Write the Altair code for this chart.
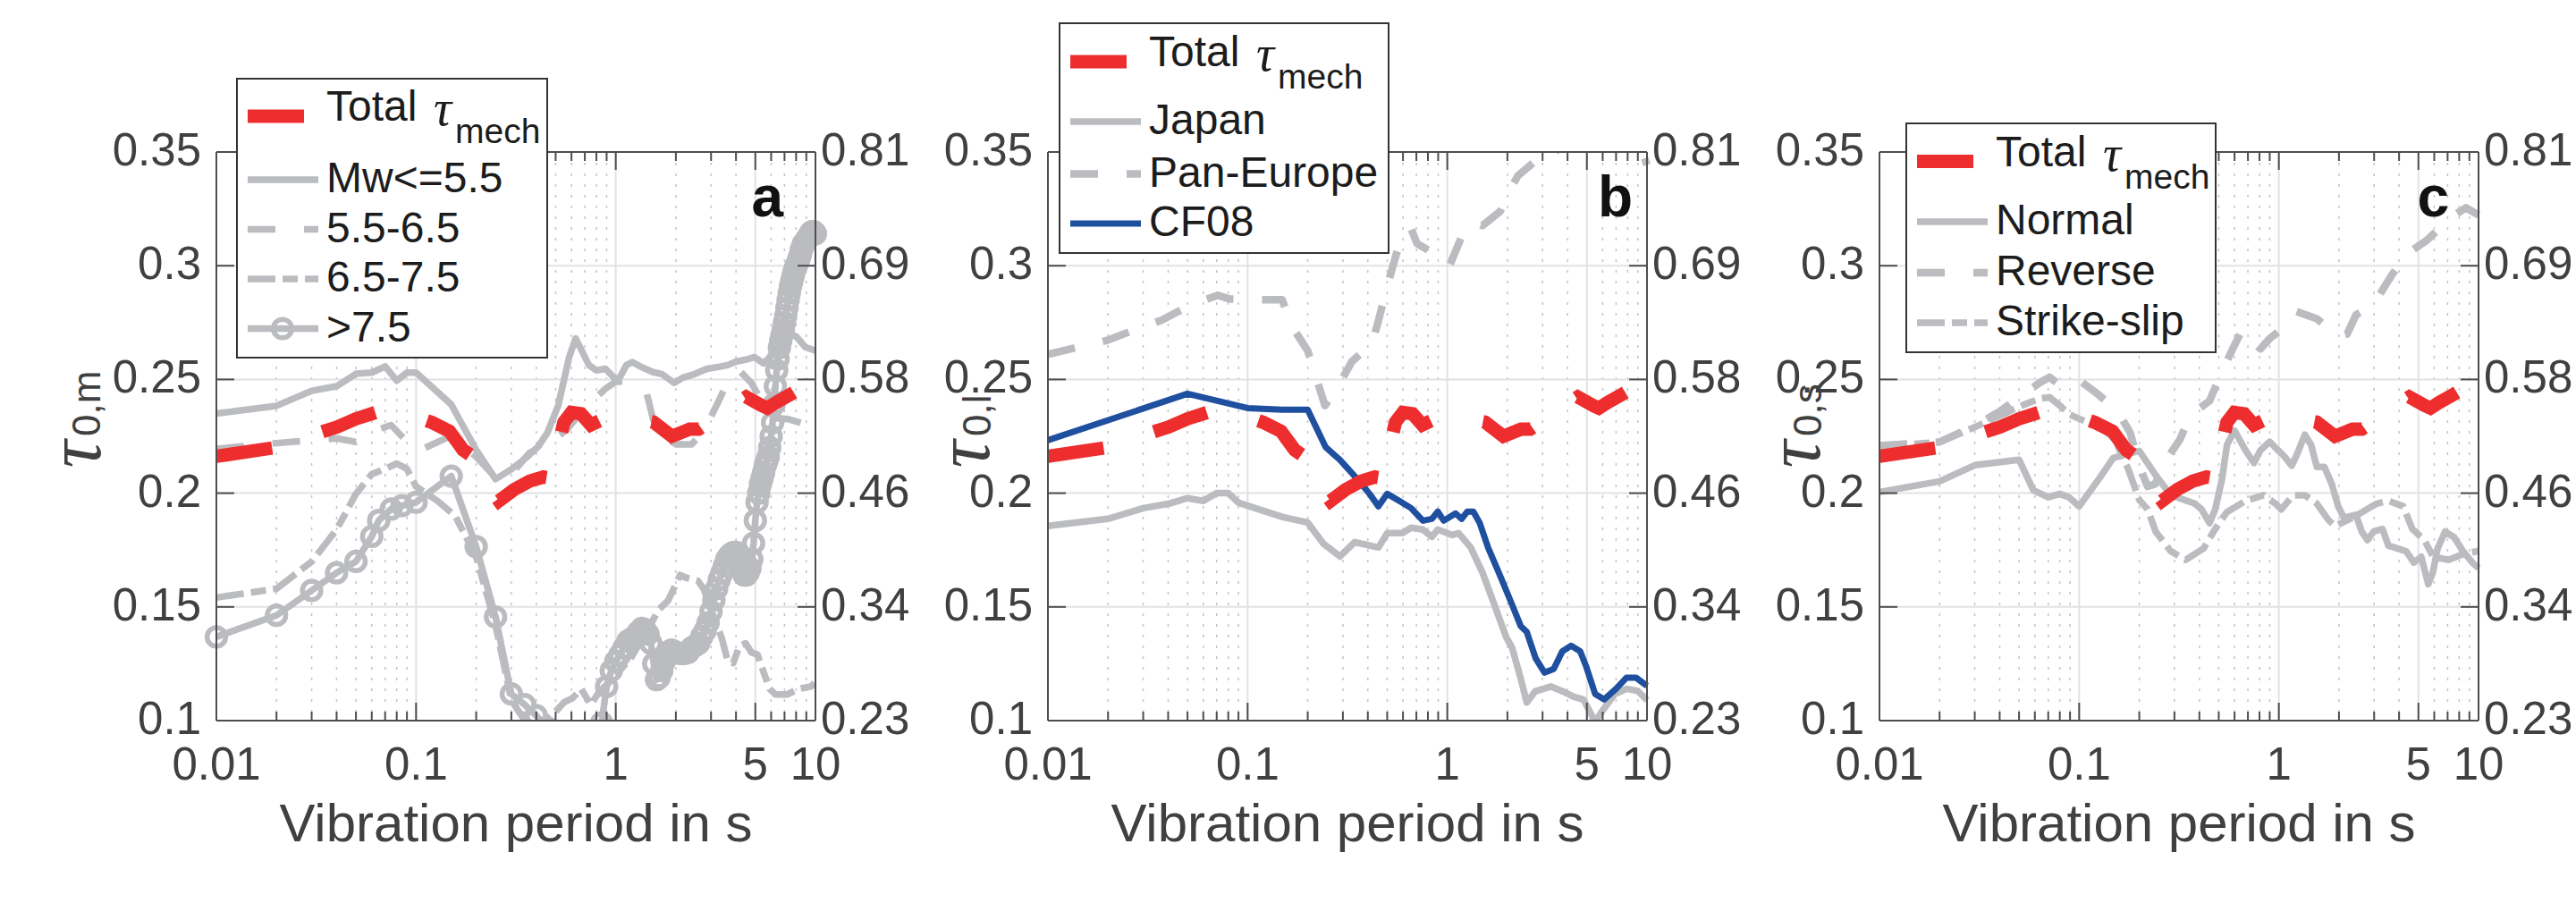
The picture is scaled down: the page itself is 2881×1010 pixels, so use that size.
import altair as alt
import pandas as pd

# ---------------- data: vibration period (s) and sigma values ----------------
# Total tau_mech (right-hand axis, drawn in left-axis units)
T_RED = [0.01, 0.02, 0.03, 0.04, 0.05, 0.065, 0.08, 0.1, 0.12, 0.147, 0.172, 0.19, 0.22, 0.26,
         0.31, 0.37, 0.435, 0.48, 0.52, 0.55, 0.6, 0.67, 0.75, 0.86, 0.96, 1.2, 1.55, 1.91, 2.34,
         2.6, 3.5, 4.5, 5.35, 5.74, 6.35, 7.55, 10]
V_RED = [0.2162, 0.2201, 0.2255, 0.229, 0.2327, 0.2359, 0.2355, 0.2335, 0.2311, 0.2272, 0.219,
         0.2164, 0.205, 0.1966, 0.2016, 0.2053, 0.2071, 0.2065, 0.222, 0.2312, 0.2355, 0.2349, 0.23,
         0.2325, 0.2331, 0.233, 0.2312, 0.225, 0.2281, 0.2281, 0.236, 0.2423, 0.2386, 0.2374,
         0.2399, 0.2436, 0.25]

# panel a: magnitude bins
T_MW55 = [0.01, 0.02, 0.03, 0.04, 0.05, 0.06, 0.07, 0.08, 0.09, 0.1, 0.15, 0.2, 0.25, 0.3, 0.356,
          0.41, 0.455, 0.515, 0.585, 0.63, 0.734, 0.8, 0.887, 0.98, 1.035, 1.13, 1.21, 1.34, 1.54,
          1.7, 1.96, 2.17, 2.49, 2.86, 3.28, 3.63, 4.03, 4.47, 4.96, 5.49, 6.1, 6.75, 7.5, 8.0,
          8.9, 10]
V_MW55 = [0.235, 0.2384, 0.245, 0.247, 0.2525, 0.253, 0.2557, 0.2495, 0.253, 0.253, 0.239, 0.219,
          0.2062, 0.2105, 0.2156, 0.2206, 0.2266, 0.2385, 0.26, 0.268, 0.2563, 0.254, 0.2547,
          0.2508, 0.25, 0.2563, 0.2576, 0.2555, 0.2532, 0.2524, 0.2485, 0.2508, 0.2524, 0.2547,
          0.2555, 0.2563, 0.2579, 0.2587, 0.2598, 0.2571, 0.261, 0.2657, 0.27, 0.2689, 0.2642,
          0.2626]

T_MW65 = [0.01, 0.02, 0.03, 0.04, 0.05, 0.066, 0.075, 0.085, 0.1, 0.11, 0.15, 0.2, 0.25, 0.3,
          0.37, 0.46, 0.57, 0.7, 0.89, 1.0, 1.13, 1.43, 1.6, 2.0, 2.4, 2.76, 3.28, 3.76, 4.2,
          4.78, 5.49, 6.2, 7.2, 9.5, 10]
V_MW65 = [0.2195, 0.222, 0.2233, 0.2241, 0.2225, 0.2283, 0.2299, 0.2249, 0.2185, 0.2198, 0.2252,
          0.216, 0.207, 0.2083, 0.2178, 0.2217, 0.228, 0.2374, 0.246, 0.249, 0.2492, 0.2437,
          0.2266, 0.2215, 0.2215, 0.2272, 0.2406, 0.2516, 0.2535, 0.2484, 0.239, 0.233, 0.2327,
          0.2296, 0.229]

T_MW75 = [0.01, 0.02, 0.03, 0.04, 0.05, 0.06, 0.07, 0.08, 0.09, 0.1, 0.128, 0.157, 0.2, 0.25,
          0.3, 0.35, 0.4, 0.45, 0.5, 0.55, 0.61, 0.67, 0.75, 0.83, 0.92, 1.0, 1.2, 1.4, 1.65,
          1.83, 2.1, 2.25, 2.58, 2.76, 3.17, 3.39, 3.63, 3.87, 4.17, 4.47, 4.78, 5.13, 5.49,
          5.89, 6.3, 7.2, 8.3, 9.5, 10]
V_MW75 = [0.1541, 0.158, 0.1699, 0.184, 0.1997, 0.2084, 0.2107, 0.213, 0.2107, 0.2029, 0.1966,
          0.19, 0.172, 0.142, 0.109, 0.1, 0.099, 0.1005, 0.104, 0.108, 0.11, 0.114, 0.107, 0.113,
          0.1165, 0.12, 0.128, 0.138, 0.149, 0.1528, 0.164, 0.1628, 0.1615, 0.1578, 0.1428,
          0.1365, 0.1265, 0.1253, 0.1328, 0.134, 0.13, 0.129, 0.1215, 0.114, 0.1115, 0.1115,
          0.114, 0.115, 0.117]

# Mw > 7.5: every period carries a marker, so the long-period end is densely sampled
T_MW8 = [0.01, 0.02, 0.03, 0.04, 0.05, 0.06, 0.065, 0.075, 0.085, 0.1, 0.15, 0.2, 0.25, 0.3,
         0.35, 0.4, 0.45, 0.5, 0.6, 0.7, 0.8, 0.85,
         0.9, 0.95, 1.0, 1.05, 1.1, 1.15, 1.2, 1.25, 1.3, 1.35, 1.4, 1.45, 1.5, 1.55, 1.6, 1.65,
         1.7, 1.75, 1.8, 1.85, 1.9, 1.95, 2.0,
         2.1, 2.2, 2.3, 2.4, 2.5, 2.6, 2.7, 2.8, 2.9, 3.0,
         3.1, 3.2, 3.3, 3.4, 3.5, 3.6, 3.7, 3.8, 3.9, 4.0,
         4.1, 4.2, 4.3, 4.4, 4.5, 4.6, 4.7, 4.8, 4.9, 5.0,
         5.1, 5.2, 5.3, 5.4, 5.5, 5.6, 5.7, 5.8, 5.9, 6.0,
         6.1, 6.2, 6.3, 6.4, 6.5, 6.6, 6.7, 6.8, 6.9, 7.0,
         7.1, 7.2, 7.3, 7.4, 7.5, 7.6, 7.7, 7.8, 7.9, 8.0,
         8.1, 8.2, 8.3, 8.4, 8.5, 8.6, 8.7, 8.8, 8.9, 9.0,
         9.1, 9.2, 9.3, 9.4, 9.5, 9.6, 9.7, 9.8, 9.9, 10.0]
V_MW8 = [0.1368, 0.1463, 0.1572, 0.165, 0.17, 0.181, 0.188, 0.193, 0.1945, 0.196, 0.2075,
         0.1765, 0.1456, 0.1117, 0.107, 0.1022, 0.097, 0.092, 0.084, 0.082, 0.088, 0.099,
         0.115, 0.122, 0.126, 0.129, 0.132, 0.135, 0.136, 0.137, 0.139, 0.1405, 0.14, 0.138,
         0.134, 0.125, 0.118, 0.119, 0.122, 0.126, 0.128, 0.13, 0.131, 0.1305, 0.13,
         0.1295, 0.1295, 0.13, 0.132, 0.133, 0.134, 0.137, 0.1395, 0.143, 0.148,
         0.153, 0.158, 0.162, 0.165, 0.168, 0.171, 0.1725, 0.1735, 0.174, 0.174,
         0.172, 0.169, 0.166, 0.164, 0.164, 0.165, 0.167, 0.171, 0.178, 0.188,
         0.196, 0.2, 0.204, 0.2065, 0.209, 0.212, 0.214, 0.216, 0.22, 0.225,
         0.231, 0.239, 0.247, 0.254, 0.259, 0.264, 0.267, 0.2695, 0.272, 0.275,
         0.278, 0.2815, 0.285, 0.288, 0.291, 0.293, 0.295, 0.297, 0.2985, 0.3,
         0.301, 0.302, 0.3035, 0.305, 0.307, 0.308, 0.3095, 0.31, 0.3105, 0.311,
         0.312, 0.3125, 0.313, 0.314, 0.3145, 0.315, 0.315, 0.315, 0.3145, 0.314]

# panel b: regional models
T_JP = [0.01, 0.02, 0.03, 0.04, 0.05, 0.06, 0.07, 0.08, 0.09, 0.1, 0.15, 0.2, 0.24, 0.29, 0.344,
        0.452, 0.5, 0.595, 0.659, 0.755, 0.837, 0.896, 1.06, 1.14, 1.31, 1.5, 1.72, 1.97, 2.11,
        2.34, 2.5, 2.75, 3.3, 3.8, 4.3, 4.8, 5.5, 6.0, 6.9, 7.9, 9.0, 10]
V_JP = [0.1856, 0.1887, 0.1934, 0.1953, 0.1978, 0.1966, 0.2, 0.2, 0.1958, 0.1945, 0.1895, 0.1871,
        0.1777, 0.1722, 0.1785, 0.1761, 0.1824, 0.1824, 0.1848, 0.184, 0.1808, 0.184, 0.1816,
        0.1824, 0.1761, 0.1651, 0.151, 0.1368, 0.1321, 0.118, 0.108, 0.1128, 0.115, 0.1128,
        0.1105, 0.1093, 0.0995, 0.1045, 0.1117, 0.114, 0.113, 0.109]

T_PE = [0.01, 0.02, 0.026, 0.037, 0.045, 0.059, 0.071, 0.081, 0.11, 0.149, 0.166, 0.2, 0.244,
        0.29, 0.333, 0.42, 0.45, 0.5, 0.555, 0.605, 0.66, 0.705, 0.81, 0.93, 1.03, 1.18, 1.35,
        1.5, 1.84, 2.11, 2.26, 2.68, 3.07, 3.29, 4.0, 5.0, 6.5, 8.3, 9.6, 10]
V_PE = [0.261, 0.2673, 0.2712, 0.276, 0.2799, 0.2846, 0.287, 0.2854, 0.285, 0.285, 0.2736,
        0.2626, 0.2385, 0.2485, 0.2579, 0.2657, 0.2752, 0.2909, 0.305, 0.3145, 0.3161, 0.3098,
        0.3066, 0.305, 0.3003, 0.3129, 0.3192, 0.3176, 0.3239, 0.3349, 0.3396, 0.3451, 0.3443,
        0.3475, 0.357, 0.362, 0.36, 0.3506, 0.3486, 0.3443]

T_CF = [0.01, 0.05, 0.1, 0.149, 0.2, 0.246, 0.29, 0.356, 0.408, 0.452, 0.5, 0.575, 0.659, 0.755,
        0.837, 0.896, 0.96, 1.1, 1.18, 1.26, 1.35, 1.45, 1.6, 1.84, 2.11, 2.33, 2.5, 2.77, 3.07,
        3.41, 3.77, 4.17, 4.63, 4.95, 5.5, 6.1, 7.0, 7.9, 8.8, 10]
V_CF = [0.2233, 0.2437, 0.2374, 0.2367, 0.2367, 0.2202, 0.2146, 0.206, 0.1997, 0.1942, 0.1997,
        0.1966, 0.1934, 0.1879, 0.1887, 0.1919, 0.1879, 0.1911, 0.1887, 0.1919, 0.1919, 0.1871,
        0.1761, 0.1636, 0.151, 0.1416, 0.139, 0.1274, 0.1211, 0.1227, 0.1305, 0.1329, 0.1305,
        0.124, 0.1117, 0.1093, 0.114, 0.1189, 0.1189, 0.1153]

# panel c: fault mechanisms
T_NO = [0.01, 0.02, 0.03, 0.05, 0.059, 0.07, 0.08, 0.089, 0.1, 0.125, 0.148, 0.17, 0.2, 0.242,
        0.288, 0.38, 0.41, 0.45, 0.48, 0.52, 0.55, 0.6, 0.68, 0.75, 0.81, 0.9, 0.99, 1.06, 1.16,
        1.24, 1.35, 1.45, 1.55, 1.69, 1.84, 1.98, 2.12, 2.43, 2.6, 2.78, 2.98, 3.3, 3.54, 3.93,
        4.35, 4.74, 5.17, 5.6, 5.9, 6.24, 6.8, 7.55, 8.37, 9.3, 10]
V_NO = [0.2005, 0.2052, 0.2123, 0.2147, 0.2013, 0.1982, 0.1997, 0.1982, 0.1942, 0.206, 0.2154,
        0.217, 0.2186, 0.2078, 0.1991, 0.1954, 0.1929, 0.1868, 0.1929, 0.2065, 0.2213, 0.2275,
        0.2189, 0.2133, 0.2189, 0.2226, 0.2189, 0.2164, 0.2121, 0.2176, 0.2257, 0.2213, 0.2115,
        0.2115, 0.2041, 0.1942, 0.1892, 0.1905, 0.1831, 0.1794, 0.1831, 0.1843, 0.1769, 0.1757,
        0.1744, 0.1695, 0.172, 0.16, 0.165, 0.1757, 0.1831, 0.1806, 0.1744, 0.1695, 0.167]

T_RV = [0.01, 0.02, 0.03, 0.04, 0.05, 0.063, 0.071, 0.08, 0.09, 0.1, 0.125, 0.156, 0.18, 0.2,
        0.22, 0.24, 0.27, 0.32, 0.36, 0.45, 0.517, 0.593, 0.657, 0.72, 0.808, 0.9, 1.03, 1.22,
        1.55, 1.97, 2.2, 2.43, 2.98, 3.66, 4.35, 5.53, 6.58, 7.5, 8.66, 10]
V_RV = [0.2209, 0.2225, 0.2296, 0.2359, 0.2422, 0.2484, 0.251, 0.2475, 0.249, 0.2497, 0.2433,
        0.236, 0.2266, 0.212, 0.203, 0.204, 0.214, 0.2237, 0.2343, 0.2406, 0.2532, 0.2642, 0.272,
        0.268, 0.2634, 0.268, 0.272, 0.2799, 0.2767, 0.2689, 0.27, 0.2783, 0.283, 0.2956, 0.305,
        0.3113, 0.3176, 0.322, 0.3255, 0.3223]

T_SS = [0.01, 0.02, 0.03, 0.04, 0.05, 0.063, 0.071, 0.08, 0.09, 0.1, 0.125, 0.15, 0.176, 0.2,
        0.22, 0.242, 0.288, 0.342, 0.42, 0.48, 0.55, 0.68, 0.84, 0.96, 1.03, 1.18, 1.35, 1.55,
        1.78, 1.91, 2.34, 3.09, 3.54, 4.2, 4.66, 5.35, 5.93, 7.05, 8.37, 9.75, 10]
V_SS = [0.2205, 0.2225, 0.229, 0.234, 0.238, 0.2415, 0.2422, 0.2385, 0.2345, 0.2327, 0.2296,
        0.224, 0.2107, 0.197, 0.193, 0.183, 0.1744, 0.1707, 0.1757, 0.1843, 0.1917, 0.1966,
        0.1991, 0.1954, 0.1929, 0.1991, 0.1991, 0.1954, 0.188, 0.1855, 0.1892, 0.1954, 0.1966,
        0.1942, 0.1843, 0.1794, 0.172, 0.1707, 0.1732, 0.1744, 0.1746]

# axis ticks and labels
X_LABELS = [0.01, 0.1, 1, 5, 10]
X_LABEL_TEXT = ["0.01", "0.1", "1", "5", "10"]
X_MINOR = [0.02, 0.03, 0.04, 0.05, 0.06, 0.07, 0.08, 0.09, 0.2, 0.3, 0.4, 0.5, 0.6, 0.7, 0.8,
           0.9, 2, 3, 4, 6, 7, 8, 9]
X_GRID_MAJOR = [0.1, 1, 5]
Y_TICKS = [0.1, 0.15, 0.2, 0.25, 0.3, 0.35]
Y_LABEL_TEXT = ["0.1", "0.15", "0.2", "0.25", "0.3", "0.35"]
Y_GRID = [0.15, 0.2, 0.25, 0.3]
RIGHT_LABEL_TEXT = ["0.23", "0.34", "0.46", "0.58", "0.69", "0.81"]
X_TITLE = "Vibration period in s"

# ---------------- layout & styling ----------------
FIG_W, FIG_H = 2881, 1010
PANEL_LEFT = [242, 1172, 2102]
TOP = 170
W, H = 670, 636
FONT = "Liberation Sans"
INK = "#404040"
LEG_INK = "#1c1c1c"
GRAY = "#bbbcc0"
RED = "#ee2e2e"
BLUE = "#1f4f9f"
FRAME = "#4d4d4d"
DASH = [31, 32]
DASHDOT = [31, 8, 17, 8]
RED_DASH = [63, 59.2]
TICK_FS = 51
LEG_FS = 48
LINE_W = 7.5
MARK_SIZE = 430
MARK_STROKE = 5.5

one = pd.DataFrame({"k": [0]})


def text(s, x, y, size, **kw):
    opts = dict(text=s, fontSize=size, font=FONT, color=INK, align="left", baseline="middle")
    opts.update(kw)
    return alt.Chart(one).mark_text(**opts).encode(x=alt.value(x), y=alt.value(y))


def hrule(x0, x1, y, **kw):
    return alt.Chart(one).mark_rule(**kw).encode(x=alt.value(x0), x2=alt.value(x1), y=alt.value(y))


def vrule(x, y0, y1, **kw):
    return alt.Chart(one).mark_rule(**kw).encode(x=alt.value(x), y=alt.value(y0), y2=alt.value(y1))


def build_panel(ox, lines, legend, letter, letter_dx, sub, tau_dx, sub_dx):
    xs = alt.Scale(type="log", domain=[0.01, 10], range=[ox, ox + W], nice=False)
    ys = alt.Scale(domain=[0.1, 0.35], range=[TOP + H, TOP], nice=False, zero=False)

    def X():
        return alt.X("T:Q", scale=xs, axis=None)

    def Y():
        return alt.Y("v:Q", scale=ys, axis=None)

    def df(T, V):
        return pd.DataFrame({"T": T, "v": V})

    layers = []
    # grid
    layers.append(alt.Chart(pd.DataFrame({"T": X_MINOR})).mark_rule(
        color="#c4c4c4", strokeWidth=1.5, strokeDash=[3, 9]).encode(
        x=X(), y=alt.value(TOP), y2=alt.value(TOP + H)))
    layers.append(alt.Chart(pd.DataFrame({"T": X_GRID_MAJOR})).mark_rule(
        color="#e2e2e2", strokeWidth=2).encode(x=X(), y=alt.value(TOP), y2=alt.value(TOP + H)))
    layers.append(alt.Chart(pd.DataFrame({"v": Y_GRID})).mark_rule(
        color="#e2e2e2", strokeWidth=2).encode(y=Y(), x=alt.value(ox), x2=alt.value(ox + W)))

    # data series
    for kind, T, V, color, width, dash in lines:
        if kind == "line":
            kw = dict(color=color, strokeWidth=width, strokeJoin="round")
            if dash:
                kw["strokeDash"] = dash
            layers.append(alt.Chart(df(T, V)).mark_line(**kw).encode(x=X(), y=Y()))
        else:
            layers.append(alt.Chart(df(T, V)).mark_point(
                shape="circle", filled=False, size=MARK_SIZE, strokeWidth=MARK_STROKE,
                color=color, opacity=1).encode(x=X(), y=Y()))
    layers.append(alt.Chart(df(T_RED, V_RED)).mark_line(
        color=RED, strokeWidth=15, strokeDash=RED_DASH, strokeCap="butt").encode(x=X(), y=Y()))

    # white masks keep the curves inside the plot box
    for y0, y1 in [(0, TOP - 1), (TOP + H + 1, FIG_H)]:
        layers.append(alt.Chart(one).mark_rect(fill="white").encode(
            x=alt.value(ox - 40), x2=alt.value(ox + W + 40), y=alt.value(y0), y2=alt.value(y1)))

    # box and inward ticks
    rule = dict(color=FRAME, strokeWidth=2)
    lab = pd.DataFrame({"T": X_LABELS, "s": X_LABEL_TEXT})
    mnr = pd.DataFrame({"T": X_MINOR})
    yt = pd.DataFrame({"v": Y_TICKS, "s": Y_LABEL_TEXT, "r": RIGHT_LABEL_TEXT})
    for data, length in [(lab, 20), (mnr, 10)]:
        layers.append(alt.Chart(data).mark_rule(**rule).encode(
            x=X(), y=alt.value(TOP + H), y2=alt.value(TOP + H - length)))
        layers.append(alt.Chart(data).mark_rule(**rule).encode(
            x=X(), y=alt.value(TOP), y2=alt.value(TOP + length)))
    layers.append(alt.Chart(yt).mark_rule(**rule).encode(
        y=Y(), x=alt.value(ox), x2=alt.value(ox + 20)))
    layers.append(alt.Chart(yt).mark_rule(**rule).encode(
        y=Y(), x=alt.value(ox + W), x2=alt.value(ox + W - 20)))
    layers.append(hrule(ox, ox + W, TOP, **rule))
    layers.append(hrule(ox, ox + W, TOP + H, **rule))
    layers.append(vrule(ox, TOP, TOP + H, **rule))
    layers.append(vrule(ox + W, TOP, TOP + H, **rule))

    # tick labels
    layers.append(alt.Chart(lab).mark_text(
        font=FONT, fontSize=TICK_FS, color=INK, align="center", baseline="middle").encode(
        x=X(), y=alt.value(TOP + H + 51), text="s:N"))
    layers.append(alt.Chart(yt).mark_text(
        font=FONT, fontSize=TICK_FS, color=INK, align="right", baseline="middle").encode(
        y=Y(), x=alt.value(ox - 17), text="s:N"))
    layers.append(alt.Chart(yt).mark_text(
        font=FONT, fontSize=TICK_FS, color=INK, align="left", baseline="middle").encode(
        y=Y(), x=alt.value(ox + W + 6), text="r:N"))
    layers.append(text(X_TITLE, ox + W / 2, 941, 60, align="center", baseline="alphabetic"))

    # y-axis title: tau with subscript
    layers.append(text("τ", ox + tau_dx, TOP + 338, 86, angle=270, align="center",
                       baseline="alphabetic", font="Liberation Serif", fontStyle="italic"))
    layers.append(text(sub, ox + sub_dx, TOP + 318, 44, angle=270, align="left",
                       baseline="alphabetic"))

    # panel letter
    layers.append(text(letter, ox + letter_dx, TOP + 72, 64, align="right",
                       baseline="alphabetic", fontWeight="bold", color="#111111"))

    # legend
    (bx0, bx1, by0, by1), rows, lx, entries = legend
    lx += ox
    layers.append(alt.Chart(one).mark_rect(fill="white", stroke="#333333", strokeWidth=2).encode(
        x=alt.value(ox + bx0), x2=alt.value(ox + bx1), y=alt.value(TOP + by0),
        y2=alt.value(TOP + by1)))
    tx = lx + 88
    for (label, color, width, dash, marker), ry in zip(entries, rows):
        ry += TOP
        if label is None:
            layers.append(hrule(lx, lx + 63, ry, color=RED, strokeWidth=15, strokeCap="butt"))
            layers.append(text("Total", tx, ry - 9, LEG_FS, color=LEG_INK))
            layers.append(text("τ", tx + 120, ry - 7, 56, color=LEG_INK,
                               font="Liberation Serif", fontStyle="italic"))
            layers.append(text("mech", tx + 144, ry + 18, 39, color=LEG_INK))
            continue
        kw = dict(color=color, strokeWidth=width)
        if dash:
            kw["strokeDash"] = dash
        layers.append(hrule(lx, lx + 79, ry, **kw))
        if marker:
            layers.append(alt.Chart(one).mark_point(
                shape="circle", filled=False, size=MARK_SIZE, strokeWidth=MARK_STROKE,
                color=color, opacity=1).encode(x=alt.value(lx + 39), y=alt.value(ry)))
        layers.append(text(label, tx, ry, LEG_FS, color=LEG_INK))

    return alt.layer(*layers)


panel_a = build_panel(
    PANEL_LEFT[0],
    [("line", T_MW55, V_MW55, GRAY, LINE_W, None),
     ("line", T_MW65, V_MW65, GRAY, LINE_W, DASH),
     ("line", T_MW75, V_MW75, GRAY, LINE_W, DASHDOT),
     ("line", T_MW8, V_MW8, GRAY, LINE_W, None),
     ("point", T_MW8, V_MW8, GRAY, 0, None)],
    ((23, 370, -82, 230), [-40, 31, 86.5, 142, 197.5], 35,
     [(None, RED, 15, None, False),
      ("Mw<=5.5", GRAY, LINE_W, None, False),
      ("5.5-6.5", GRAY, LINE_W, DASH, False),
      ("6.5-7.5", GRAY, LINE_W, DASHDOT, False),
      (">7.5", GRAY, LINE_W, None, True)]),
    "a", 634, "0,m", -130, -130)

panel_b = build_panel(
    PANEL_LEFT[1],
    [("line", T_JP, V_JP, GRAY, LINE_W, None),
     ("line", T_PE, V_PE, GRAY, 8.5, DASH),
     ("line", T_CF, V_CF, BLUE, 7, None)],
    ((13, 381, -144, 113), [-101, -34, 24.5, 80], 25,
     [(None, RED, 15, None, False),
      ("Japan", GRAY, LINE_W, None, False),
      ("Pan-Europe", GRAY, 8.5, DASH, False),
      ("CF08", BLUE, 7, None, False)]),
    "b", 654, "0,l", -66, -64)

panel_c = build_panel(
    PANEL_LEFT[2],
    [("line", T_NO, V_NO, GRAY, LINE_W, None),
     ("line", T_RV, V_RV, GRAY, 8.5, DASH),
     ("line", T_SS, V_SS, GRAY, LINE_W, DASHDOT)],
    ((30, 376, -32, 224), [10.5, 78, 135, 191], 42,
     [(None, RED, 15, None, False),
      ("Normal", GRAY, LINE_W, None, False),
      ("Reverse", GRAY, 8.5, DASH, False),
      ("Strike-slip", GRAY, LINE_W, DASHDOT, False)]),
    "c", 637, "0,s", -67, -65)

chart = alt.layer(panel_a, panel_b, panel_c).resolve_scale(
    x="independent", y="independent"
).properties(
    width=FIG_W, height=FIG_H,
    autosize=alt.AutoSizeParams(type="none"),
    padding=0,
    background="white",
).configure_view(stroke=None)

chart.save("out.html", embed_options={"renderer": "svg", "actions": False})
